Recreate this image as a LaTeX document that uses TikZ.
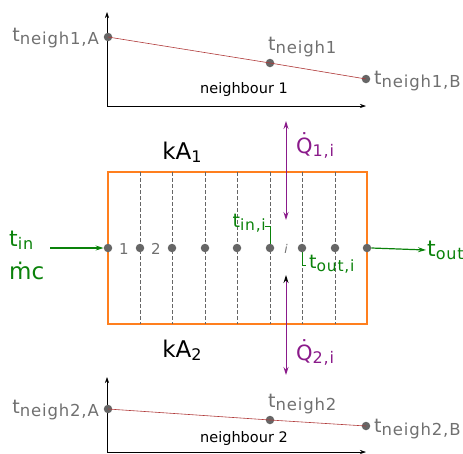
\documentclass[tikz,border=0pt]{standalone}
\usepackage{fontspec}
\setmainfont{DejaVu Sans}
\newfontfamily\subfont[LetterSpace=5]{DejaVu Sans}
\usetikzlibrary{arrows.meta}
\definecolor{dotgray}{HTML}{666666}
\definecolor{labgray}{HTML}{707070}
\definecolor{flowgreen}{HTML}{0A820A}
\definecolor{heatpurple}{HTML}{8A1A8A}
\definecolor{wallorange}{HTML}{FF7F1E}
\definecolor{profred}{HTML}{B03A3A}
% symbol with a lowered, slightly spaced subscript
\newcommand{\symsub}[4]{{\fontsize{#2}{#2}\selectfont #1}\raisebox{-0.3em}{\subfont\fontsize{#4}{#4}\selectfont #3}}
\newcommand{\tsym}[3][19]{\symsub{t}{#1}{#2}{#3}}
% heat flow rate: Q with a dot above
\newcommand{\Qdot}{\ooalign{Q\cr\hidewidth\raisebox{0.22em}{˙}\hidewidth\cr}}
\tikzset{
  axis/.style={black, line width=0.6pt, -{Stealth[length=6pt,width=4pt]}},
  dot/.style={circle, fill=dotgray, inner sep=0pt, minimum size=8.5pt},
  profile/.style={profred, line width=0.6pt},
  graylab/.style={text=labgray, inner sep=1pt},
  greenlab/.style={text=flowgreen, inner sep=1pt},
  purplelab/.style={text=heatpurple, inner sep=1pt},
  flow/.style={flowgreen, line width=1.2pt, -{Stealth[length=8pt,width=5pt]}},
  heat/.style={heatpurple, line width=1pt, {Stealth[length=8pt,width=5pt]}-{Stealth[length=8pt,width=5pt]}},
  cell/.style={dotgray, dash pattern=on 4pt off 2pt, line width=0.8pt},
  tag/.style={flowgreen, line width=0.6pt},
}
\begin{document}
\begin{tikzpicture}[x=1pt, y=-1pt]
\useasboundingbox (0,0) rectangle (463,453);

% ---------- neighbour 1 profile ----------
\coordinate (o1) at (107,106);
\coordinate (y1) at (107,12);
\coordinate (x1) at (366,106);
\draw[axis] (o1) -- (y1);
\draw[axis] (o1) -- (x1);
\node[dot] (a1) at (108,37) {};
\node[dot] (m1) at (270,63) {};
\node[dot] (b1) at (366,79) {};
\draw[profile] (a1.center) -- (m1.center) -- (b1.center);
\node[graylab, anchor=east] (la1) at (100,38) {\tsym{neigh1,A}{16.5}};
\node[graylab, anchor=south west] (lm1) at (267,58) {\tsym{neigh1}{16.5}};
\node[graylab, anchor=west] (lb1) at (373,81) {\tsym{neigh1,B}{16.5}};
\node[inner sep=0pt] (n1) at (244,89) {\fontsize{14.5}{14.5}\selectfont neighbour 1};

% ---------- heat exchanger channel ----------
\node[draw=wallorange, line width=1.2pt, minimum width=259pt, minimum height=152pt, inner sep=0pt] (hx) at (237.5,248) {};
\foreach \xx in {140,172,205,237,270,302,335}{
  \draw[cell] (\xx,172) -- (\xx,324);
}
\foreach \k/\xx in {0/108,1/140,2/172,3/205,4/237,5/270,6/302,7/335,8/367}{
  \coordinate (p\k) at (\xx,248);
}

% cell temperatures, tied to their grid points
\node[greenlab, anchor=south east] (tini) at (267,233) {\tsym{in,i}{15.5}};
\coordinate (tinc) at (265,226);
\draw[tag] (tinc) -| (p5);
\node[greenlab, anchor=north west] (touti) at (308,254) {\tsym{out,i}{15.5}};
\coordinate (toutc) at (306,265);
\draw[tag] (toutc) -| (p6);

\foreach \k in {0,...,8}{
  \node[dot] (d\k) at (p\k) {};
}
\node[text=labgray] (c1) at (124,249) {\fontsize{15}{15}\selectfont 1};
\node[text=labgray] (c2) at (156,249) {\fontsize{15}{15}\selectfont 2};
\node[text=labgray] (ci) at (286,249) {\fontsize{12}{12}\selectfont\itshape i};

% inlet / outlet
\node[greenlab, anchor=west] (tin) at (8,240) {\tsym[22]{in}{16}};
\node[greenlab, anchor=west] (mc) at (8,271) {\fontsize{23}{23}\selectfont ṁc};
\coordinate (inl) at (50,248);
\draw[flow] (inl) -- (d0.west);
\node[greenlab, anchor=west] (tout) at (426,250) {\tsym[22]{out}{16}};
\draw[flow] (d8.east) -- (tout.west);

% wall conductances and heat flows
\node (ka1) at (182,152) {\symsub{kA}{23}{1}{16}};
\node (ka2) at (182,350) {\symsub{kA}{23}{2}{16}};
\coordinate (q1t) at (286,121);
\coordinate (q1b) at (286,220);
\draw[heat] (q1t) -- (q1b);
\coordinate (q2t) at (286,275);
\coordinate (q2b) at (286,375);
\draw[heatpurple, line width=1pt, {Stealth[length=8pt,width=5pt,black]}-{Stealth[length=8pt,width=5pt]}] (q2t) -- (q2b);
\node[purplelab, anchor=west] (lq1) at (295,148) {\symsub{\Qdot}{21}{1,i}{16}};
\node[purplelab, anchor=west] (lq2) at (295,355) {\symsub{\Qdot}{21}{2,i}{16}};

% ---------- neighbour 2 profile ----------
\coordinate (o2) at (107,452);
\coordinate (y2) at (107,377);
\coordinate (x2) at (366,452);
\draw[axis] (o2) -- (y2);
\draw[axis] (o2) -- (x2);
\node[dot] (a2) at (108,409) {};
\node[dot] (m2) at (270,420) {};
\node[dot] (b2) at (366,426) {};
\draw[profile] (a2.center) -- (m2.center) -- (b2.center);
\node[graylab, anchor=east] (la2) at (100,410) {\tsym{neigh2,A}{16.5}};
\node[graylab, anchor=south west] (lm2) at (267,415) {\tsym{neigh2}{16.5}};
\node[graylab, anchor=west] (lb2) at (373,429) {\tsym{neigh2,B}{16.5}};
\node[inner sep=0pt] (n2) at (244,438) {\fontsize{14.5}{14.5}\selectfont neighbour 2};
\end{tikzpicture}
\end{document}
